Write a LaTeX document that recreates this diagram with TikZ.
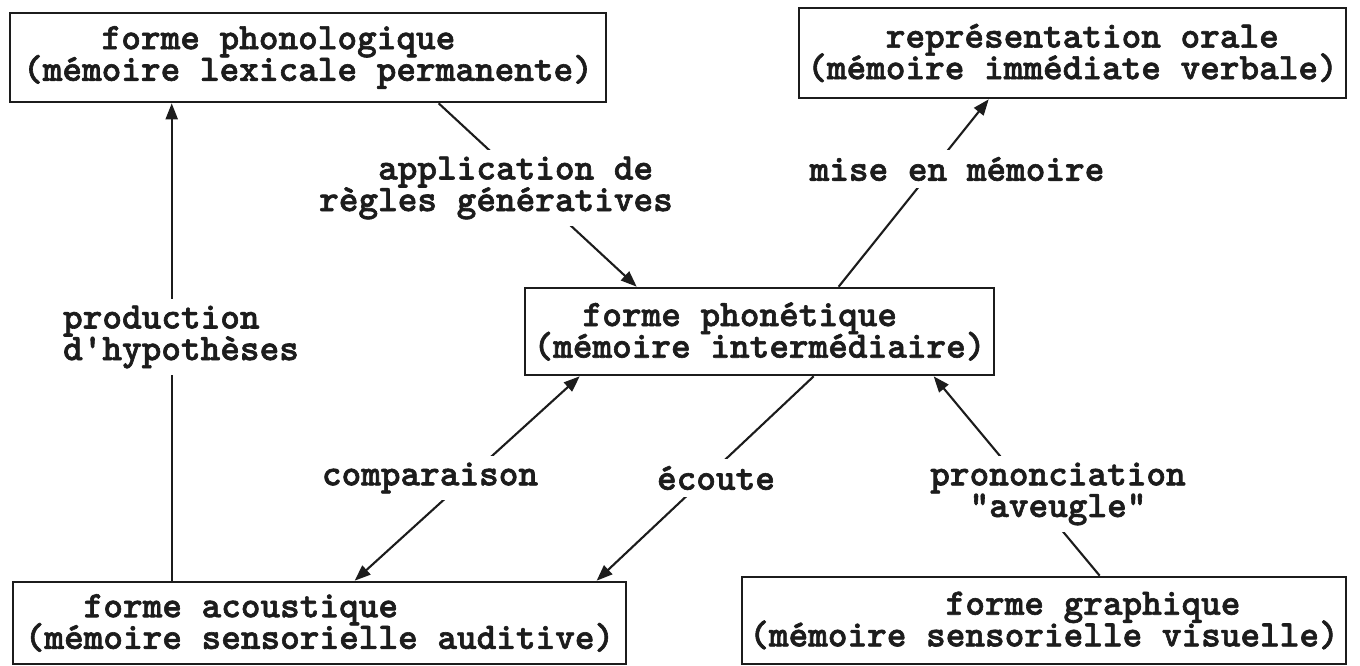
\documentclass[tikz,border=0pt]{standalone}
\usepackage{fontspec}
\newfontfamily\twfamily[FakeBold=1.6]{lmmonolt10-bold.otf}
\definecolor{twink}{HTML}{1C1C1C}
\usepackage{tikz}
\usetikzlibrary{arrows.meta}
\newcommand{\twfont}{\fontsize{21.3pt}{18pt}\selectfont\twfamily\lineskiplimit=-40pt\relax}
\newcommand{\skipch}[1]{\hspace*{#1\dimexpr0.525em\relax}}

\begin{document}
\begin{tikzpicture}[
    x=0.02cm, y=-0.02cm,
    box/.style={draw=twink, line width=1.5pt, align=left, inner sep=2pt,
                font=\twfont, text=twink},
    lbl/.style={font=\twfont, text=twink, fill=white, inner sep=4pt},
    arr/.style={-{Triangle[length=0.32cm, width=0.24cm]}, twink, line width=1.2pt},
    dbl/.style={{Triangle[length=0.32cm, width=0.24cm]}-{Triangle[length=0.32cm, width=0.24cm]},
                twink, line width=1.2pt},
  ]
  \useasboundingbox (0,0) rectangle (1360,666);

  % Memory stores
  \node[box, minimum width=11.92cm, minimum height=1.78cm] (phono)  at (308,57.5)
    {\skipch{4}forme phonologique\\(mémoire lexicale permanente)};
  \node[box, minimum width=10.94cm, minimum height=1.80cm] (repr)   at (1072.5,53)
    {\skipch{4}représentation orale\\(mémoire immédiate verbale)};
  \node[box, minimum width=9.38cm,  minimum height=1.74cm] (phonet) at (759.5,331.5)
    {\skipch{2.5}forme phonétique\\(mémoire intermédiaire)};
  \node[box, minimum width=12.26cm, minimum height=1.64cm] (acou)   at (319.5,623)
    {\skipch{3}forme acoustique\\(mémoire sensorielle auditive)};
  \node[box, minimum width=12.08cm, minimum height=1.74cm] (graph)  at (1044,620.5)
    {\skipch{10}forme graphique\\(mémoire sensorielle visuelle)};

  % Arrows
  \draw[arr] ([xshift=3.2cm]acou.north west) -- ([xshift=3.2cm]acou.north west |- phono.south);
  \draw[arr] ([xshift=8.6cm]phono.south west) -- ([xshift=2.26cm]phonet.north west);
  \draw[arr] ([xshift=6.3cm]phonet.north west) -- ([xshift=3.82cm]repr.south west);
  \draw[dbl] ([xshift=6.86cm]acou.north west) -- ([xshift=1.12cm]phonet.south west);
  \draw[arr] ([xshift=5.8cm]phonet.south west) -- ([xshift=11.7cm]acou.north west);
  \draw[arr] ([xshift=7.18cm]graph.north west) -- ([xshift=8.2cm]phonet.south west);

  % Arrow labels
  \node[lbl, align=left]   (hyp)    at (181,337)  {production\\d'hypothèses};
  \node[lbl, align=left]   (gen)    at (496,188)  {\skipch{3}application de\\règles génératives};
  \node[lbl]               (mem)    at (957,169)  {mise en mémoire};
  \node[lbl]               (comp)   at (430,478)  {comparaison};
  \node[lbl]               (ecoute) at (716,478)  {écoute};
  \node[lbl, align=center] (pron)   at (1058,494) {prononciation\\"aveugle"};
\end{tikzpicture}
\end{document}
